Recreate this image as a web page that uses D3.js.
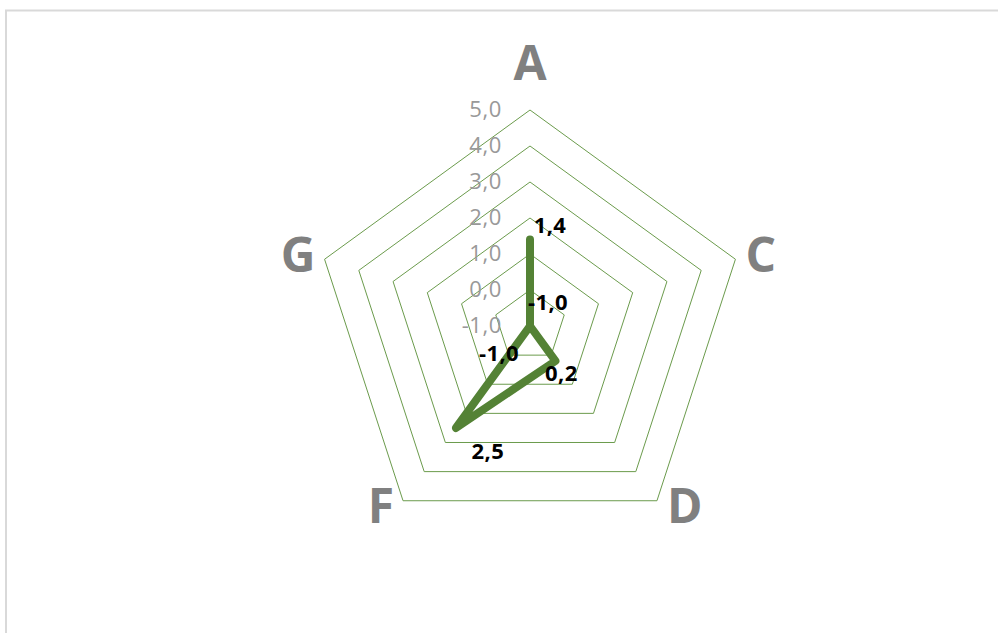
<!DOCTYPE html>
<html>
<head>
<meta charset="utf-8">
<script src="https://cdn.jsdelivr.net/npm/d3@7"></script>
<style>
  html, body { margin: 0; padding: 0; background: #ffffff; }
  svg { display: block; }
</style>
</head>
<body>
<svg id="chart" width="998" height="633"></svg>
<script>
// Radar series: one value per axis, axes run clockwise from the top
const categories = ["A", "C", "D", "F", "G"];
const values = [1.4, -1.0, 0.2, 2.5, -1.0];
const tickValues = [-1, 0, 1, 2, 3, 4, 5];
const gridLevels = [0, 1, 2, 3, 4, 5];

// Offsets of each value label from its point (layout only)
const valueLabelOffsets = [[20, -15], [18, -24], [6, 12], [32, 23], [-31, 27]];

const width = 998, height = 633;
const cx = 530, cy = 326, R = 216;
const green = "#548235";
const fmt = v => d3.format(".1f")(v).replace(".", ",").replace("−", "-");

const svg = d3.select("#chart");

// Chart frame
svg.append("rect")
  .attr("x", 6).attr("y", 10.5)
  .attr("width", width + 20).attr("height", height + 20)
  .attr("fill", "#ffffff")
  .attr("stroke", "#d9d9d9").attr("stroke-width", 2);

const r = d3.scaleLinear().domain([-1, 5]).range([0, R]);
const angle = d3.scaleBand().domain(categories).range([0, 2 * Math.PI]).align(0).paddingInner(0).paddingOuter(0);
const theta = c => angle(c) - Math.PI / 2;
const pt = (c, v) => [cx + r(v) * Math.cos(theta(c)), cy + r(v) * Math.sin(theta(c))];

const g = svg.append("g");

// Pentagon gridlines
const ring = d3.line().curve(d3.curveLinearClosed);
g.selectAll("path.grid")
  .data(gridLevels)
  .join("path")
  .attr("class", "grid")
  .attr("d", lv => ring(categories.map(c => pt(c, lv))))
  .attr("fill", "none")
  .attr("stroke", "#6b9b4c")
  .attr("stroke-width", 1);

// Scale labels along the top axis
g.selectAll("text.tick")
  .data(tickValues)
  .join("text")
  .attr("class", "tick")
  .attr("x", cx - 28)
  .attr("y", v => cy - r(v))
  .attr("dy", "0.34em")
  .attr("text-anchor", "end")
  .attr("font-family", "'Open Sans', sans-serif")
  .attr("font-size", 22)
  .attr("letter-spacing", 0.6)
  .attr("fill", "#999999")
  .text(fmt);

// Series outline
const pts = categories.map((c, i) => pt(c, values[i]));
g.append("path")
  .attr("d", ring(pts))
  .attr("fill", "none")
  .attr("stroke", green)
  .attr("stroke-width", 8)
  .attr("stroke-linejoin", "round")
  .attr("stroke-linecap", "round");

// Value labels
g.selectAll("text.value")
  .data(categories)
  .join("text")
  .attr("class", "value")
  .attr("x", (c, i) => pts[i][0] + valueLabelOffsets[i][0])
  .attr("y", (c, i) => pts[i][1] + valueLabelOffsets[i][1])
  .attr("dy", "0.36em")
  .attr("text-anchor", "middle")
  .attr("font-family", "'Open Sans', sans-serif")
  .attr("font-weight", "bold")
  .attr("font-size", 22)
  .attr("letter-spacing", 0.4)
  .attr("fill", "#000000")
  .text((c, i) => fmt(values[i]));

// Category labels outside each vertex
g.selectAll("text.cat")
  .data(categories)
  .join("text")
  .attr("class", "cat")
  .each(function (c) {
    const t = theta(c);
    const [vx, vy] = pt(c, 5);
    const cs = Math.cos(t), sn = Math.sin(t);
    let x = vx, y, anchor = "middle";
    if (cs > 0.1) { anchor = "start"; x = vx + 10; }
    else if (cs < -0.1) { anchor = "end"; x = vx - 9; }
    if (sn < -0.9) y = vy - 30;
    else if (Math.abs(sn) < 0.5) y = vy + 13;
    else y = vy + 22;
    d3.select(this).attr("x", x).attr("y", y).attr("text-anchor", anchor);
  })
  .attr("font-family", "'Open Sans', sans-serif")
  .attr("font-weight", "bold")
  .attr("font-size", 48)
  .attr("fill", "#808080")
  .text(c => c);
</script>
</body>
</html>
